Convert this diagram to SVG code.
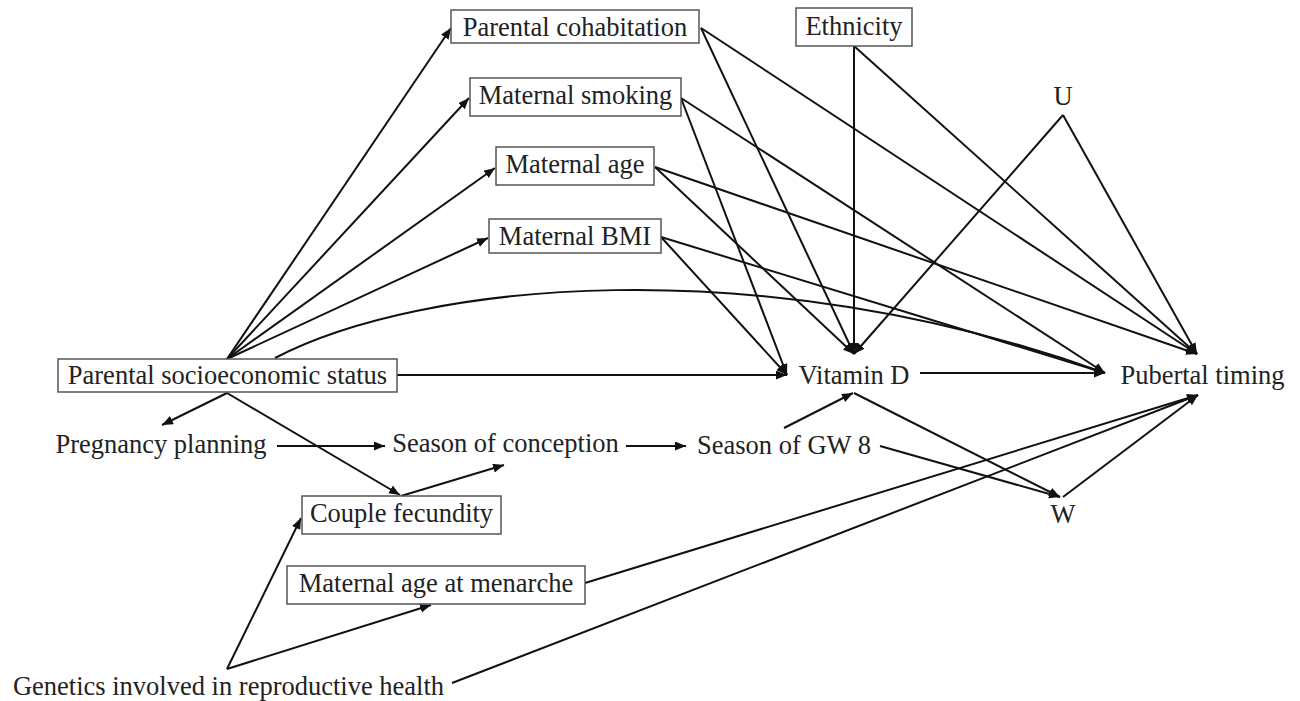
<svg xmlns="http://www.w3.org/2000/svg" width="1300" height="701" viewBox="0 0 1300 701">
<defs>
<marker id="ah" markerUnits="userSpaceOnUse" markerWidth="12" markerHeight="10" refX="11" refY="4.5" orient="auto">
<path d="M0,0 L11,4.5 L0,9 z" fill="#111"/>
</marker>
<style>
.t{font-family:"Liberation Serif","Times New Roman",serif;font-size:26.5px;fill:#222;text-anchor:middle}
.b{fill:#fff;stroke:#555;stroke-width:1.5}
.e{fill:none;stroke:#111;stroke-width:2;marker-end:url(#ah)}
.n{fill:none;stroke:#111;stroke-width:2}
</style>
</defs>
<rect width="1300" height="701" fill="#fff"/>
<g id="connectors">
<line class="e" x1="227" y1="359" x2="451" y2="28"/>
<line class="e" x1="227" y1="359" x2="469" y2="98"/>
<line class="e" x1="227" y1="359" x2="495" y2="168"/>
<line class="e" x1="227" y1="359" x2="488" y2="238"/>
<path class="e" d="M275,358 C420,282 760,248 1105,373"/>
<line class="e" x1="397" y1="375" x2="787" y2="375"/>
<line class="e" x1="227" y1="393" x2="162" y2="425"/>
<line class="e" x1="227" y1="393" x2="400" y2="495"/>
<line class="e" x1="277" y1="446" x2="385" y2="446"/>
<line class="e" x1="401" y1="496" x2="504" y2="465"/>
<line class="e" x1="626" y1="446" x2="686" y2="446"/>
<line class="e" x1="784" y1="428" x2="853" y2="393"/>
<line class="e" x1="880" y1="446" x2="1060" y2="497"/>
<line class="e" x1="854" y1="393" x2="1060" y2="497"/>
<line class="e" x1="1063" y1="497" x2="1198" y2="395"/>
<line class="e" x1="920" y1="373" x2="1105" y2="373"/>
<line class="e" x1="701" y1="28" x2="854" y2="354"/>
<line class="e" x1="701" y1="28" x2="1197" y2="354"/>
<line class="e" x1="681" y1="98" x2="787" y2="375"/>
<line class="e" x1="681" y1="98" x2="1105" y2="373"/>
<line class="e" x1="655" y1="167" x2="854" y2="354"/>
<line class="e" x1="655" y1="167" x2="1197" y2="354"/>
<line class="e" x1="661" y1="237" x2="787" y2="375"/>
<line class="e" x1="661" y1="237" x2="1105" y2="373"/>
<line class="e" x1="854" y1="46" x2="854" y2="354"/>
<line class="e" x1="854" y1="46" x2="1197" y2="354"/>
<line class="e" x1="1063" y1="115" x2="854" y2="354"/>
<line class="e" x1="1063" y1="115" x2="1197" y2="354"/>
<line class="e" x1="227" y1="669" x2="301" y2="518"/>
<line class="e" x1="227" y1="669" x2="431" y2="605"/>
<line class="e" x1="452" y1="683" x2="1198" y2="395"/>
<line class="e" x1="585" y1="583" x2="1198" y2="395"/>
</g>
<g id="parental-cohabitation"><rect class="b" x="451" y="10" width="248" height="33"/><text class="t" x="575" y="36">Parental cohabitation</text></g>
<g id="ethnicity"><rect class="b" x="796" y="8" width="116" height="38"/><text class="t" x="854" y="35">Ethnicity</text></g>
<g id="maternal-smoking"><rect class="b" x="470" y="78" width="211" height="38"/><text class="t" x="575.5" y="104">Maternal smoking</text></g>
<g id="maternal-age"><rect class="b" x="496" y="147" width="158" height="38"/><text class="t" x="575" y="173">Maternal age</text></g>
<g id="maternal-bmi"><rect class="b" x="489" y="219" width="172" height="34"/><text class="t" x="575" y="245">Maternal BMI</text></g>
<g id="u"><text class="t" x="1063" y="105">U</text></g>
<g id="pses"><rect class="b" x="58" y="359" width="339" height="33"/><text class="t" x="227.5" y="384">Parental socioeconomic status</text></g>
<g id="vitamin-d"><text class="t" x="854" y="384">Vitamin D</text></g>
<g id="pubertal-timing"><text class="t" x="1202.5" y="384">Pubertal timing</text></g>
<g id="pregnancy-planning"><text class="t" x="161" y="453">Pregnancy planning</text></g>
<g id="season-of-conception"><text class="t" x="505.5" y="452">Season of conception</text></g>
<g id="season-of-gw8"><text class="t" x="784" y="454">Season of GW 8</text></g>
<g id="w"><text class="t" x="1063" y="523">W</text></g>
<g id="couple-fecundity"><rect class="b" x="302" y="496" width="199" height="38"/><text class="t" x="401.5" y="522">Couple fecundity</text></g>
<g id="maternal-age-menarche"><rect class="b" x="287" y="566" width="298" height="38"/><text class="t" x="436" y="592">Maternal age at menarche</text></g>
<g id="genetics"><text class="t" x="228.5" y="695">Genetics involved in reproductive health</text></g>
</svg>
